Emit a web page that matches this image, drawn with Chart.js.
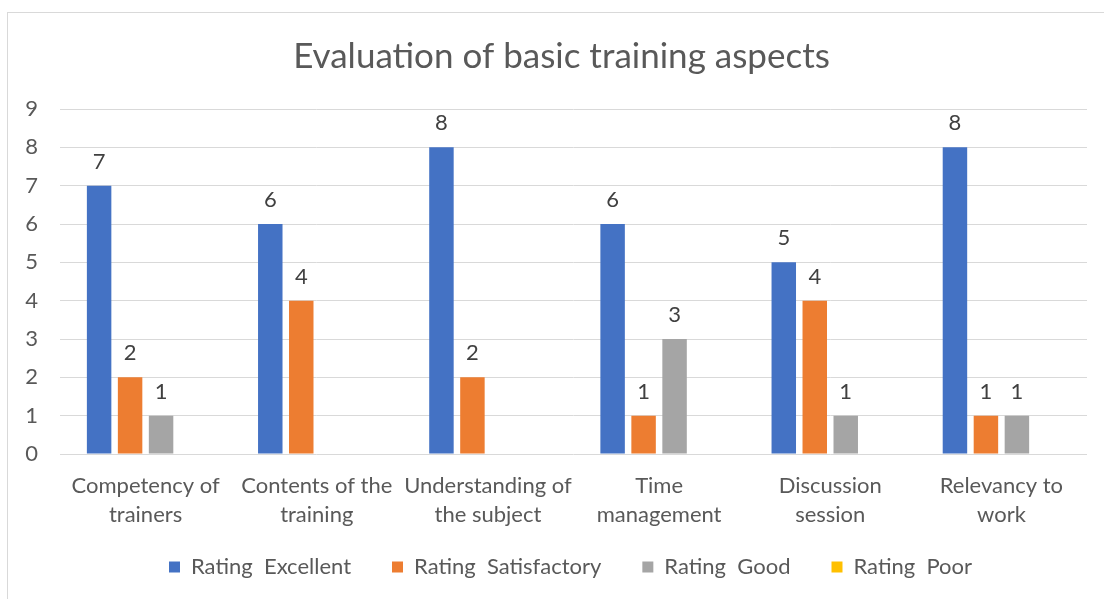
<!DOCTYPE html>
<html>
<head>
<meta charset="utf-8">
<script src="https://cdn.jsdelivr.net/npm/chart.js@4"></script>
<style>
  html, body { margin: 0; padding: 0; background: #fff; overflow: hidden; }
  #frame { position: absolute; left: 7px; top: 12px; width: 1200px; height: 700px; border: 1px solid #d9d9d9; }
  #wrap { position: absolute; left: 0; top: 0; width: 1104px; height: 599px; }
</style>
</head>
<body>
<div id="frame"></div>
<div id="wrap"><canvas id="chart" width="1104" height="599"></canvas></div>
<script>
// ===== Data =====
const categories = [
  ["Competency of", "trainers"],
  ["Contents of the", "training"],
  ["Understanding of", "the subject"],
  ["Time", "management"],
  ["Discussion", "session"],
  ["Relevancy to", "work"],
];
const excellent = [7, 6, 8, 6, 5, 8];
const satisfactory = [2, 4, 2, 1, 4, 1];
const good = [1, 0, 0, 3, 1, 1];
const poor = [0, 0, 0, 0, 0, 0];
const yTicks = [0, 1, 2, 3, 4, 5, 6, 7, 8, 9];

const FONT = "Lato, 'Open Sans', sans-serif";
const TEXT = "#595959";

// value labels above each bar (zeros left out)
const valueLabels = {
  id: "valueLabels",
  afterDatasetsDraw(chart) {
    const ctx = chart.ctx;
    ctx.save();
    ctx.font = `22px ${FONT}`;
    ctx.fillStyle = "#404040";
    ctx.textAlign = "center";
    ctx.textBaseline = "middle";
    chart.data.datasets.forEach((ds, i) => {
      chart.getDatasetMeta(i).data.forEach((bar, j) => {
        const v = ds.data[j];
        if (!v) return;
        ctx.fillText(String(v), bar.x, bar.y - 24);
      });
    });
    ctx.restore();
  },
};

// nudge title and legend to where the original has them
const shiftBoxes = {
  id: "shiftBoxes",
  afterLayout(chart) {
    const lg = chart.legend;
    lg.left += 27; lg.right += 27;
    lg.top -= 11; lg.bottom -= 11;
    const t = chart.titleBlock;
    t.left += 18; t.right += 18;
  },
};

new Chart(document.getElementById("chart"), {
  type: "bar",
  data: {
    labels: categories,
    datasets: [
      { label: "Rating  Excellent", data: excellent, backgroundColor: "#4472C4" },
      { label: "Rating  Satisfactory", data: satisfactory, backgroundColor: "#ED7D31" },
      { label: "Rating  Good", data: good, backgroundColor: "#A5A5A5" },
      { label: "Rating  Poor", data: poor, backgroundColor: "#FFC000" },
    ],
  },
  options: {
    responsive: false,
    animation: false,
    devicePixelRatio: 1,
    layout: { padding: { top: 12, right: 17, left: 0, bottom: 0 } },
    datasets: {
      bar: { categoryPercentage: 0.724, barPercentage: 0.79 },
    },
    scales: {
      x: {
        afterFit: (scale) => { scale.height = 72; },
        grid: { display: false, drawTicks: false },
        border: { display: false },
        ticks: {
          color: TEXT,
          font: { family: FONT, size: 22, lineHeight: 1.3 },
          padding: 18,
          maxRotation: 0,
          autoSkip: false,
        },
      },
      y: {
        min: 0,
        max: 9,
        afterFit: (scale) => { scale.width = 60; },
        afterBuildTicks: (scale) => { scale.ticks = yTicks.map((v) => ({ value: v })); },
        grid: { color: "#d9d9d9", lineWidth: 1, drawTicks: false },
        border: { display: false },
        ticks: {
          color: TEXT,
          font: { family: FONT, size: 22 },
          padding: 22,
        },
      },
    },
    plugins: {
      title: {
        display: true,
        text: "Evaluation of basic training aspects",
        color: TEXT,
        font: { family: FONT, size: 35, weight: "normal" },
        padding: { top: 24, bottom: 31 },
      },
      legend: {
        position: "bottom",
        labels: {
          color: TEXT,
          font: { family: FONT, size: 22 },
          boxWidth: 11,
          boxHeight: 11,
          padding: 41,
        },
      },
      tooltip: { enabled: false },
    },
  },
  plugins: [valueLabels, shiftBoxes],
});
</script>
</body>
</html>
